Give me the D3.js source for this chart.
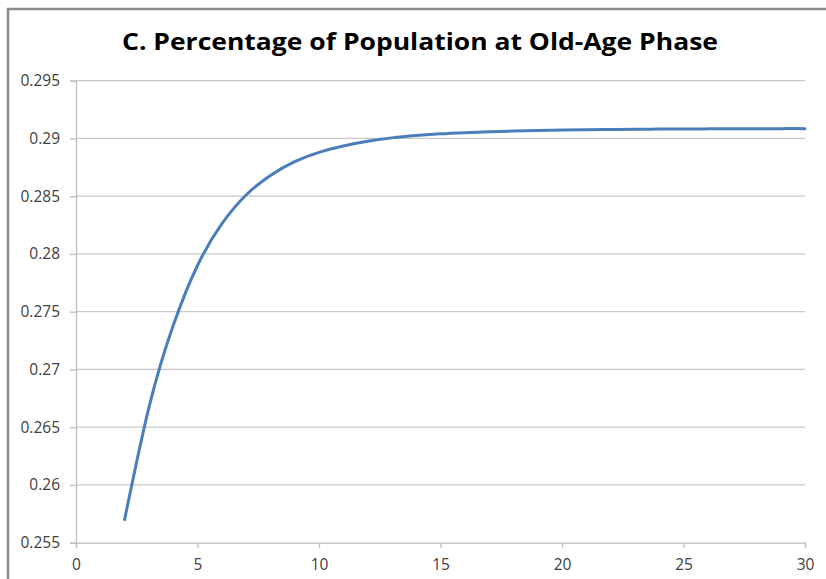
<!DOCTYPE html>
<html>
<head>
<meta charset="utf-8">
<script src="https://cdn.jsdelivr.net/npm/d3@7"></script>
<style>
  html, body { margin: 0; padding: 0; background: #fff; }
  svg { display: block; }
</style>
</head>
<body>
<svg id="chart" width="826" height="579"></svg>
<script>
const title = "C. Percentage of Population at Old-Age Phase";
const xValues = [2,3,4,5,6,7,8,9,10,11,12,13,14,15,16,17,18,19,20,21,22,23,24,25,26,27,28,29,30];
const yValues = [0.2570,0.2667,0.2738,0.2790,0.2826,0.2851,0.2868,0.2880,0.2888,0.28935,0.28975,0.29005,0.29025,0.2904,0.2905,0.29058,0.29064,0.29069,0.29073,0.29076,0.29078,0.2908,0.29081,0.29082,0.29083,0.29084,0.29084,0.29085,0.29085];
const xTicks = [0,5,10,15,20,25,30];
const yTicks = [0.255,0.26,0.265,0.27,0.275,0.28,0.285,0.29,0.295];
const yTickLabels = ["0.255","0.26","0.265","0.27","0.275","0.28","0.285","0.29","0.295"];

const svg = d3.select("#chart");
const margin = {left: 76, right: 21, top: 80.7, bottom: 36.3};
const W = 826, H = 579;
const font = "'Open Sans', 'Noto Sans', sans-serif";

// outer frame
svg.append("path")
  .attr("d", `M8,${H} L8,9 L${W},9`)
  .attr("fill", "none").attr("stroke", "#8a8a8a").attr("stroke-width", 2.5);

const x = d3.scaleLinear().domain([0, 30]).range([margin.left, W - margin.right]);
const y = d3.scaleLinear().domain([0.255, 0.295]).range([H - margin.bottom, margin.top]);

// gridlines
svg.append("g").selectAll("line").data(yTicks.slice(1)).join("line")
  .attr("x1", x(0)).attr("x2", x(30))
  .attr("y1", d => y(d)).attr("y2", d => y(d))
  .attr("stroke", "#c8c8c8").attr("stroke-width", 1.3);

// y axis
const yAxis = d3.axisLeft(y).tickValues(yTicks).tickSize(6)
  .tickFormat((d, i) => yTickLabels[i]).tickPadding(10);
const gy = svg.append("g").attr("transform", `translate(${x(0)},0)`).call(yAxis);
gy.select(".domain").attr("stroke", "#bdbdbd").attr("stroke-width", 1.3);
gy.selectAll(".tick line").attr("stroke", "#bdbdbd").attr("stroke-width", 1.3);
gy.selectAll("text").attr("font-family", font)
  .attr("font-size", 15.5).attr("fill", "#404040");

// x axis
const xAxis = d3.axisBottom(x).tickValues(xTicks).tickSize(5).tickPadding(11).tickFormat(d3.format("d"));
const gx = svg.append("g").attr("transform", `translate(0,${y(0.255)})`).call(xAxis);
gx.select(".domain").attr("stroke", "#bdbdbd").attr("stroke-width", 1.3);
gx.selectAll(".tick line").attr("stroke", "#bdbdbd").attr("stroke-width", 1.3);
gx.selectAll("text").attr("font-family", font)
  .attr("font-size", 15.5).attr("fill", "#404040");

// line
const data = xValues.map((d, i) => [d, yValues[i]]);
svg.append("path").datum(data)
  .attr("fill", "none").attr("stroke", "#4a7ebb").attr("stroke-width", 3)
  .attr("stroke-linecap", "round").attr("stroke-linejoin", "round")
  .attr("d", d3.line().x(d => x(d[0])).y(d => y(d[1])).curve(d3.curveNatural));

// title
svg.append("text").attr("x", 420).attr("y", 50).attr("text-anchor", "middle")
  .attr("font-family", font).attr("font-weight", "bold")
  .attr("font-size", 24).attr("fill", "#000").attr("textLength", 596).attr("lengthAdjust", "spacingAndGlyphs")
  .text(title);
</script>
</body>
</html>
